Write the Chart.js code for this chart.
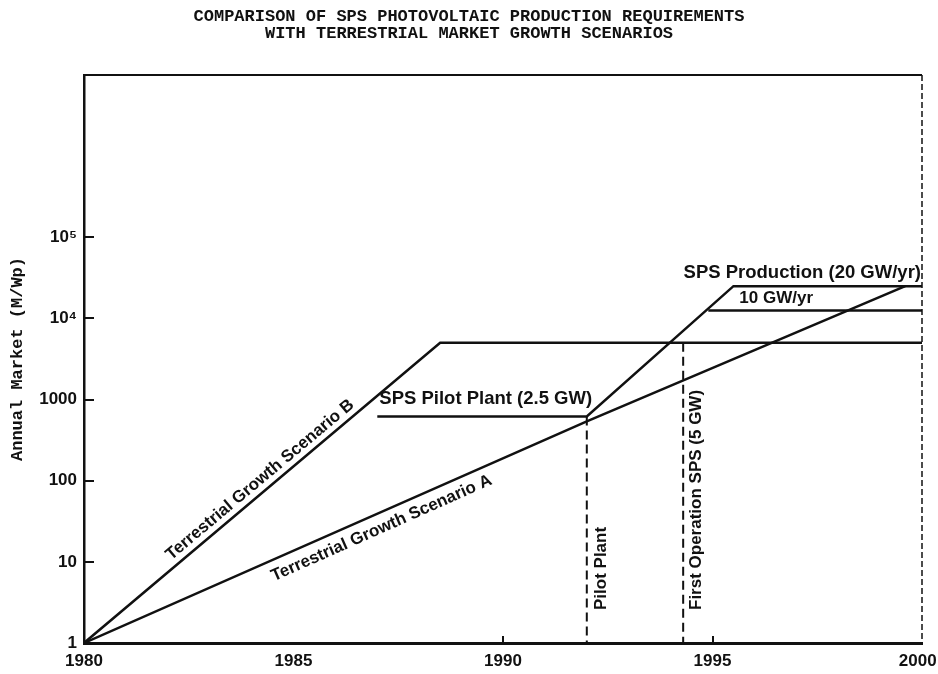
<!DOCTYPE html>
<html>
<head>
<meta charset="utf-8">
<title>SPS photovoltaic production vs terrestrial market</title>
<script src="https://cdn.jsdelivr.net/npm/chart.js@4.4.0/dist/chart.umd.min.js"></script>
<style>
  body { margin: 0; background: #fff; }
  canvas { display: block; }
</style>
</head>
<body>
<canvas id="marketChart" width="938" height="674"></canvas>
<script>
// each curve is a list of years and the annual market (MWp) at those years
var scenarioAYears = [1980, 1992, 1999.6];
var scenarioAValues = [1, 540, 25000];

var scenarioBYears = [1980, 1988.5, 2000];
var scenarioBValues = [1, 5000, 5000];

// pilot plant, ramp up and full SPS production (20 GW/yr)
var spsYears = [1987, 1992, 1995.5, 2000];
var spsValues = [620, 620, 25000, 25000];

var sps10Years = [1994.9, 2000];
var sps10Values = [12500, 12500];

// dashed date markers
var pilotYears = [1992, 1992];
var pilotValues = [620, 1];
var firstOpYears = [1994.3, 1994.3];
var firstOpValues = [5000, 1];

var xTicks = [1980, 1985, 1990, 1995, 2000];
var yTicks = [1, 10, 100, 1000, 10000, 100000];
var yTickLabels = ['1', '10', '100', '1000', '10⁴', '10⁵'];

var ink = '#111';
var labelFont = 'Liberation Sans, Arial, sans-serif';
var typeFont = 'Liberation Mono, DejaVu Sans Mono, monospace';

// text written on the plot, anchored at a (year, market) point plus a pixel offset
var notes = [
    {text: 'SPS Production (20 GW/yr)', at: [2000, 25000], dx: -1, dy: -13, rot: 0, align: 'right', size: 18.5},
    {text: '10 GW/yr', at: [1994.9, 12500], dx: 31, dy: -12, rot: 0, align: 'left', size: 17},
    {text: 'SPS Pilot Plant (2.5 GW)', at: [1987, 620], dx: 2, dy: -18, rot: 0, align: 'left', size: 18.5},
    {text: 'Terrestrial Growth Scenario B', at: [1984.2, 67], dx: 0, dy: -15, rot: -40, align: 'center', size: 17},
    {text: 'Terrestrial Growth Scenario A', at: [1987.1, 42], dx: 0, dy: 17, rot: -24, align: 'center', size: 17},
    {text: 'Pilot Plant', at: [1992, 1], dx: 15, dy: -33, rot: -90, align: 'left', size: 17},
    {text: 'First Operation SPS (5 GW)', at: [1994.3, 1], dx: 13, dy: -33, rot: -90, align: 'left', size: 17}
];

function toPoints(xs, ys) {
    var pts = [];
    for (var i = 0; i < xs.length; i++) {
        pts.push({x: xs[i], y: ys[i]});
    }
    return pts;
}

function curve(xs, ys, dashed) {
    return {
        data: toPoints(xs, ys),
        borderColor: ink,
        borderWidth: dashed ? 2 : 2.5,
        borderDash: dashed ? [9, 5] : [],
        pointRadius: 0,
        fill: false,
        tension: 0
    };
}

// top edge solid, right edge dashed
var framePlugin = {
    id: 'frame',
    beforeDatasetsDraw: function(chart) {
        var a = chart.chartArea;
        var ctx = chart.ctx;
        ctx.save();
        ctx.strokeStyle = ink;
        ctx.lineWidth = 2;
        ctx.beginPath();
        ctx.moveTo(a.left, a.top);
        ctx.lineTo(a.right, a.top);
        ctx.stroke();
        ctx.lineWidth = 1.5;
        ctx.setLineDash([6, 3]);
        ctx.beginPath();
        ctx.moveTo(a.right, a.top);
        ctx.lineTo(a.right, a.bottom);
        ctx.stroke();
        ctx.restore();
    }
};

var notesPlugin = {
    id: 'notes',
    afterDatasetsDraw: function(chart) {
        var ctx = chart.ctx;
        var xs = chart.scales.x;
        var ys = chart.scales.y;
        ctx.save();
        ctx.fillStyle = ink;
        ctx.textBaseline = 'middle';
        notes.forEach(function(n) {
            var px = xs.getPixelForValue(n.at[0]) + n.dx;
            var py = ys.getPixelForValue(n.at[1]) + n.dy;
            ctx.save();
            ctx.font = 'bold ' + n.size + 'px ' + labelFont;
            ctx.translate(px, py);
            ctx.rotate(n.rot * Math.PI / 180);
            ctx.textAlign = n.align;
            ctx.fillText(n.text, 0, 0);
            ctx.restore();
        });
        ctx.restore();
    }
};

function createChart() {
    var canvas = document.getElementById('marketChart');

    new Chart(canvas, {
        type: 'line',
        data: {
            datasets: [
                curve(scenarioAYears, scenarioAValues, false),
                curve(scenarioBYears, scenarioBValues, false),
                curve(spsYears, spsValues, false),
                curve(sps10Years, sps10Values, false),
                curve(pilotYears, pilotValues, true),
                curve(firstOpYears, firstOpValues, true)
            ]
        },
        options: {
            responsive: false,
            devicePixelRatio: 1,
            animation: false,
            layout: {padding: 0},
            plugins: {
                legend: {display: false},
                tooltip: {enabled: false},
                title: {
                    display: true,
                    text: ['COMPARISON OF SPS PHOTOVOLTAIC PRODUCTION REQUIREMENTS',
                           'WITH TERRESTRIAL MARKET GROWTH SCENARIOS'],
                    color: ink,
                    font: {family: typeFont, size: 17, weight: 'bold', lineHeight: 1},
                    padding: {top: 8, bottom: 33}
                }
            },
            scales: {
                x: {
                    type: 'linear',
                    min: 1980,
                    max: 2000,
                    afterBuildTicks: function(s) {
                        s.ticks = xTicks.map(function(v) { return {value: v}; });
                    },
                    afterFit: function(s) {
                        s.height = 31;
                        s.paddingLeft = 0;
                        s.paddingRight = 16;
                    },
                    border: {display: true, color: ink, width: 3},
                    grid: {
                        drawOnChartArea: false,
                        drawTicks: true,
                        tickLength: -7,
                        lineWidth: 2,
                        tickColor: function(c) {
                            return (c.tick && (c.tick.value === 1990 || c.tick.value === 1995)) ? ink : 'rgba(0,0,0,0)';
                        }
                    },
                    ticks: {
                        color: ink,
                        padding: 15,
                        maxRotation: 0,
                        font: {family: labelFont, size: 17, weight: 'bold'},
                        // last year label sits against the page edge, pull it in a little
                        callback: function(v) { return v === 2000 ? '2000\u2002' : String(v); }
                    }
                },
                y: {
                    type: 'logarithmic',
                    min: 1,
                    max: 1e7,
                    afterBuildTicks: function(s) {
                        s.ticks = yTicks.map(function(v) { return {value: v}; });
                    },
                    afterFit: function(s) {
                        s.width = 84;
                        s.paddingTop = 0;
                        s.paddingBottom = 0;
                    },
                    border: {display: true, color: ink, width: 2.5},
                    grid: {
                        drawOnChartArea: false,
                        drawTicks: true,
                        tickLength: -10,
                        lineWidth: 2,
                        color: ink
                    },
                    ticks: {
                        color: ink,
                        padding: 17,
                        font: {family: labelFont, size: 17, weight: 'bold'},
                        callback: function(v) {
                            var i = yTicks.indexOf(v);
                            return i >= 0 ? yTickLabels[i] : '';
                        }
                    },
                    title: {
                        display: true,
                        text: 'Annual Market (M/Wp)',
                        color: ink,
                        font: {family: typeFont, size: 17, weight: 'bold'},
                        padding: {top: 8, bottom: 0}
                    }
                }
            }
        },
        plugins: [framePlugin, notesPlugin]
    });
}

createChart();
</script>
</body>
</html>
